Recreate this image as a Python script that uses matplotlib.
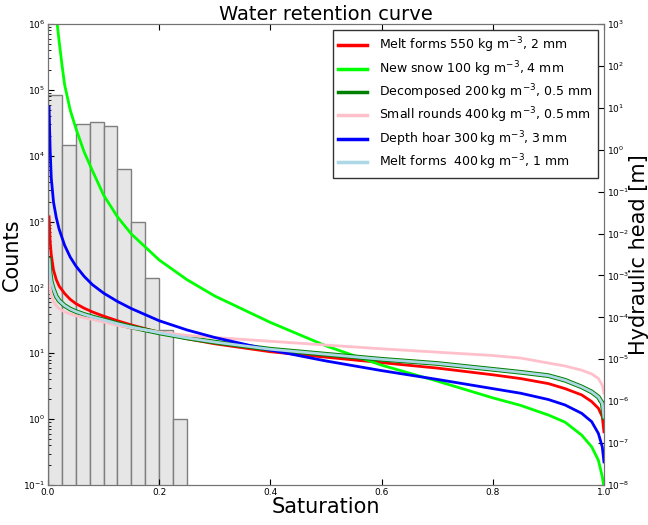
# -*- coding: utf8
'''
Water retention curves of a few snow types on top of a histogram
of saturation counts.
'''
from __future__ import division, print_function

import matplotlib
matplotlib.use('Agg')

from matplotlib import pyplot as plt
from matplotlib.ticker import LogLocator

# histogram of saturation
bin_edges = [0.0, 0.025, 0.05, 0.075, 0.1, 0.125, 0.15, 0.175, 0.2, 0.225]
bin_counts = [8.5e4, 1.44e4, 3.0e4, 3.3e4, 2.86e4, 6.2e3, 970, 138, 22.6, 1.0]
bin_width = 0.025

# retention curves, log10 of the hydraulic head [m]
sat = [0.002, 0.004, 0.006, 0.01, 0.015, 0.02, 0.03, 0.04, 0.05, 0.065,
       0.08, 0.1, 0.125, 0.15, 0.2, 0.25, 0.3, 0.4, 0.5, 0.6, 0.7, 0.8,
       0.85, 0.9, 0.93, 0.96, 0.978, 0.99, 0.997, 1.0]

melt_550 = [-1.60, -2.20, -2.51, -2.87, -3.10, -3.25, -3.43, -3.57, -3.67,
            -3.78, -3.87, -3.97, -4.08, -4.18, -4.36, -4.51, -4.63, -4.82,
            -4.95, -5.08, -5.21, -5.37, -5.46, -5.58, -5.70, -5.85, -6.01,
            -6.17, -6.37, -6.73]
depth_hoar = [1.02, -0.02, -0.68, -1.25, -1.62, -1.89, -2.28, -2.56, -2.77,
              -3.02, -3.22, -3.42, -3.62, -3.79, -4.08, -4.30, -4.48, -4.78,
              -5.04, -5.27, -5.48, -5.70, -5.81, -5.96, -6.09, -6.29, -6.49,
              -6.77, -7.09, -7.45]
small_rounds = [-2.95, -3.30, -3.47, -3.62, -3.72, -3.79, -3.87, -3.92, -3.96,
                -4.01, -4.05, -4.11, -4.19, -4.25, -4.35, -4.43, -4.48, -4.57,
                -4.66, -4.75, -4.83, -4.91, -4.97, -5.09, -5.16, -5.26, -5.35,
                -5.46, -5.62, -5.81]
decomposed = [-2.62, -2.95, -3.15, -3.33, -3.50, -3.60, -3.72, -3.80, -3.86,
              -3.93, -3.99, -4.06, -4.15, -4.23, -4.37, -4.49, -4.59, -4.76,
              -4.88, -5.00, -5.10, -5.24, -5.31, -5.39, -5.50, -5.66, -5.78,
              -5.90, -6.05, -6.38]
melt_400 = decomposed

sat_new = [0.0167, 0.02, 0.025, 0.03, 0.04, 0.05, 0.065, 0.08, 0.1, 0.125,
           0.15, 0.2, 0.25, 0.3, 0.4, 0.5, 0.6, 0.7, 0.8, 0.85, 0.9, 0.93,
           0.96, 0.978, 0.99, 0.997, 1.0]
new_snow = [3.0, 2.60, 2.05, 1.55, 0.95, 0.52, -0.05, -0.50, -1.08, -1.60,
            -2.01, -2.63, -3.10, -3.49, -4.12, -4.68, -5.14, -5.52, -5.92,
            -6.10, -6.33, -6.50, -6.81, -7.09, -7.41, -7.80, -8.05]

labels = ['Melt forms 550 kg m$^{-3}$, 2 mm',
          'New snow 100 kg m$^{-3}$, 4 mm',
          'Decomposed 200$\\,$kg m$^{-3}$, 0.5 mm',
          'Small rounds 400$\\,$kg m$^{-3}$, 0.5$\\,$mm',
          'Depth hoar 300$\\,$kg m$^{-3}$, 3$\\,$mm',
          'Melt forms  400$\\,$kg m$^{-3}$, 1 mm']


def main():
    fig = plt.figure(figsize=(6.48, 5.25), dpi=100)
    ax = fig.add_axes([0.074, 0.0762, 0.858, 0.878])

    ax.bar(bin_edges, bin_counts, width=bin_width, align='edge', log=True,
           facecolor='#e6e6e6', edgecolor='#7f7f7f', linewidth=1)
    ax.set_yscale('log')
    ax.set_ylim(0.1, 1e6)
    ax.set_xlim(0, 1)
    ax.set_ylabel('Counts', fontsize=15, labelpad=1)
    ax.set_xlabel('Saturation', fontsize=15, labelpad=0)
    ax.set_title('Water retention curve', fontsize=14, pad=1)

    ax2 = ax.twinx()
    to_h = lambda vals: [10 ** v for v in vals]
    ax2.plot(sat, to_h(melt_550), color='#ff0000', lw=2, label=labels[0])
    ax2.plot(sat_new, to_h(new_snow), color='#00ff00', lw=2, label=labels[1])
    ax2.plot(sat, to_h(decomposed), color='green', lw=3.4, label=labels[2])
    ax2.plot(sat, to_h(small_rounds), color='pink', lw=2, label=labels[3])
    ax2.plot(sat, to_h(depth_hoar), color='#0000ff', lw=2, label=labels[4])
    ax2.plot(sat, to_h(melt_400), color='lightblue', lw=2, label=labels[5])
    ax2.set_yscale('log')
    ax2.set_ylim(1e-8, 1e3)
    ax2.set_xlim(0, 1)
    ax2.yaxis.set_major_locator(LogLocator(base=10, numticks=20))
    ax2.set_ylabel('Hydraulic head [m]', fontsize=15, labelpad=0)

    ax.yaxis.set_major_locator(LogLocator(base=10, numticks=20))
    for a in (ax, ax2):
        a.tick_params(which='both', direction='in', labelsize=6.5, pad=2)
        a.tick_params(which='major', length=4)
        a.tick_params(which='minor', length=2)
        for sp in a.spines.values():
            sp.set_color('0.45')
    ax.tick_params(top=True)

    leg = ax2.legend(loc='upper right', fontsize=9, handlelength=2.3,
                     handletextpad=1.0, fancybox=False, framealpha=1,
                     borderpad=0.45, labelspacing=0.3, borderaxespad=0,
                     bbox_to_anchor=(0.99, 0.987))
    leg.get_frame().set_edgecolor('0.2')
    for line in leg.get_lines():
        line.set_linewidth(2.5)

    fig.savefig('out.png', dpi=100)


if __name__ == '__main__':
    main()
